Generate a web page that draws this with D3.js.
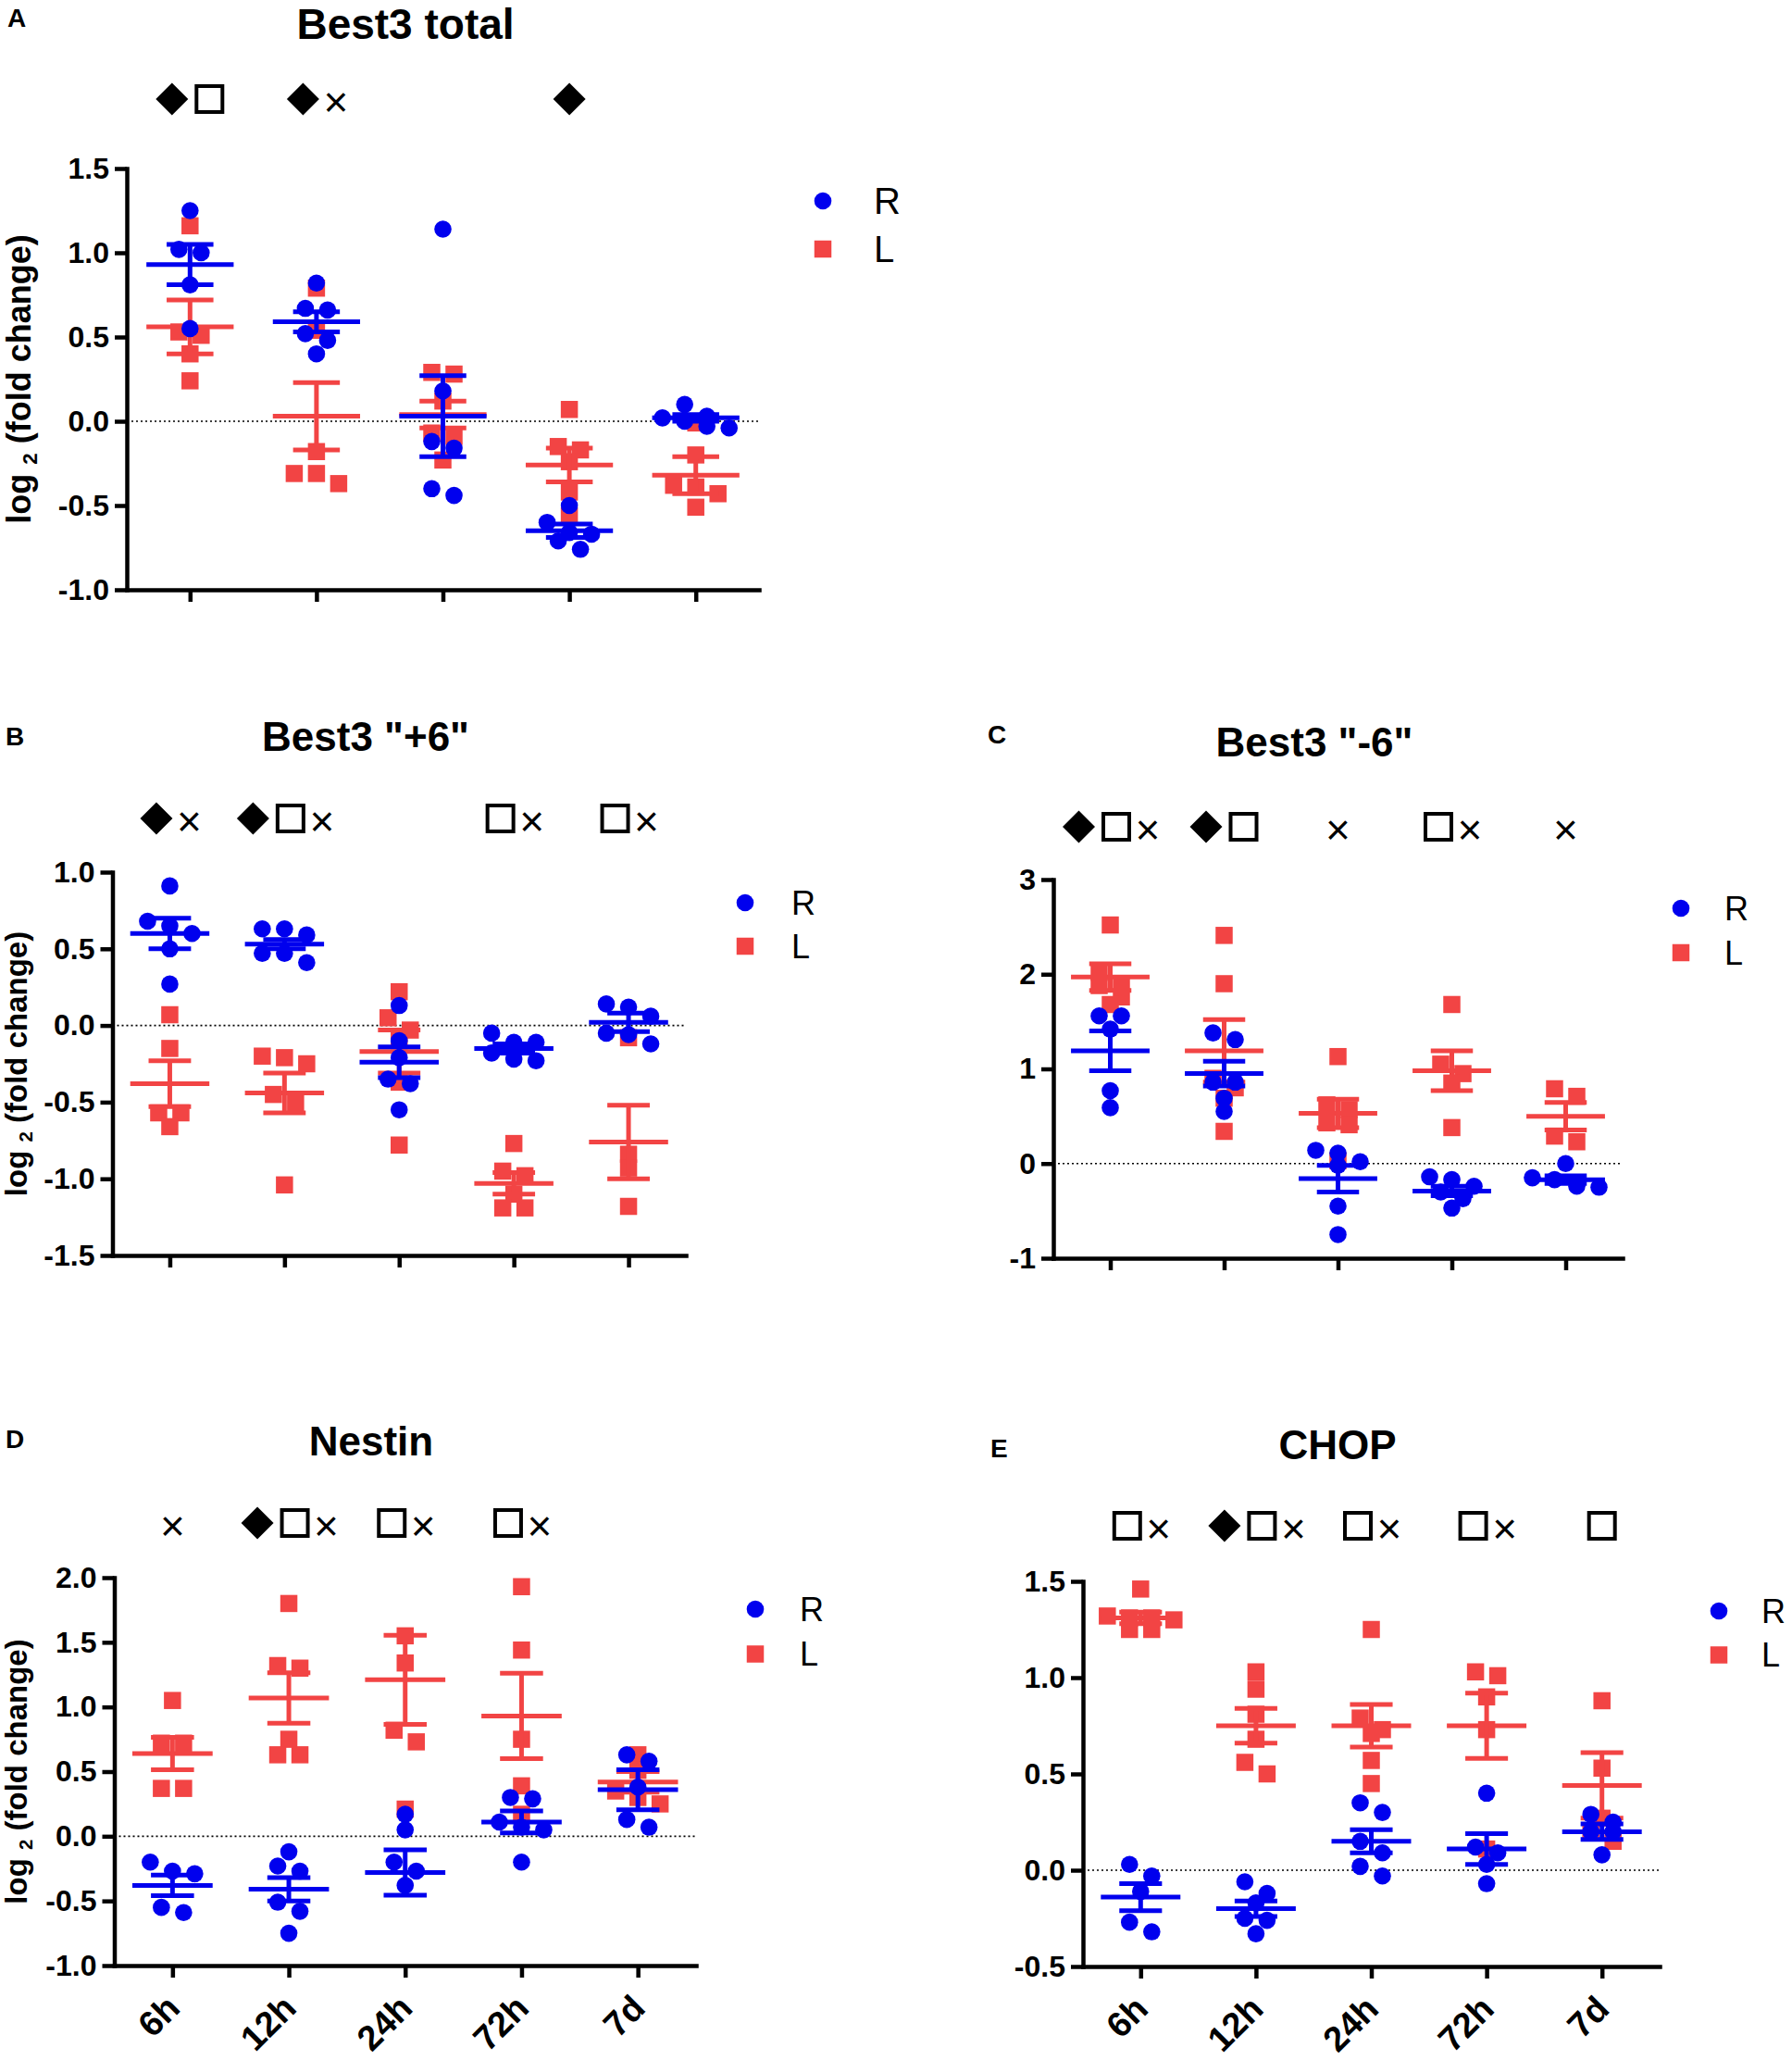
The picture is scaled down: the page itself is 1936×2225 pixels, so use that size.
<!DOCTYPE html>
<html>
<head>
<meta charset="utf-8">
<script src="https://cdn.jsdelivr.net/npm/d3@7"></script>
<style>
  body { margin: 0; background: #fff; }
  svg { display: block; }
  text { font-family: "Liberation Sans", Arial, sans-serif; }
</style>
</head>
<body>
<div id="chart"></div>
<script>
// time points on the x axis
var timepoints = ["6h", "12h", "24h", "72h", "7d"];

// ---- A: Best3 total ----
var best3TotalR = [
  [1.25, 1.02, 1.00, 0.81, 0.55],
  [0.82, 0.67, 0.66, 0.52, 0.48, 0.40],
  [1.14, 0.18, -0.12, -0.16, -0.40, -0.44],
  [-0.50, -0.60, -0.66, -0.67, -0.71, -0.76],
  [0.10, 0.03, 0.02, 0.00, -0.03, -0.04]
];
var best3TotalRMean = [0.93, 0.59, 0.03, -0.65, 0.02];
var best3TotalRSem = [0.12, 0.06, 0.24, 0.04, 0.02];
var best3TotalL = [
  [1.16, 0.53, 0.51, 0.40, 0.24],
  [0.79, 0.54, -0.18, -0.31, -0.31, -0.37],
  [0.29, 0.28, 0.12, -0.07, -0.09, -0.23],
  [0.07, -0.15, -0.17, -0.24, -0.42, -0.56],
  [-0.01, -0.20, -0.38, -0.39, -0.43, -0.51]
];
var best3TotalLMean = [0.56, 0.03, 0.04, -0.26, -0.32];
var best3TotalLSem = [0.16, 0.20, 0.08, 0.10, 0.11];
var best3TotalSig = ["◆□", "◆×", "", "◆", ""];

// ---- B: Best3 "+6" ----
var best3PlusR = [
  [0.91, 0.68, 0.65, 0.60, 0.50, 0.27],
  [0.63, 0.63, 0.59, 0.47, 0.47, 0.41],
  [0.13, -0.10, -0.21, -0.35, -0.38, -0.55],
  [-0.05, -0.11, -0.11, -0.18, -0.22, -0.23],
  [0.14, 0.12, 0.06, -0.05, -0.06, -0.12]
];
var best3PlusRMean = [0.60, 0.53, -0.24, -0.15, 0.02];
var best3PlusRSem = [0.10, 0.03, 0.10, 0.03, 0.06];
var best3PlusL = [
  [0.07, -0.15, -0.57, -0.57, -0.66],
  [-0.20, -0.21, -0.25, -0.45, -0.51, -1.04],
  [0.22, 0.05, -0.03, -0.10, -0.37, -0.78],
  [-0.77, -0.95, -0.98, -1.10, -1.19, -1.19],
  [-0.08, -0.84, -0.93, -1.18]
];
var best3PlusLMean = [-0.38, -0.44, -0.17, -1.03, -0.76];
var best3PlusLSem = [0.15, 0.13, 0.14, 0.07, 0.24];
var best3PlusSig = ["◆×", "◆□×", "", "□×", "□×"];

// ---- C: Best3 "-6" ----
var best3MinusR = [
  [1.56, 1.56, 1.42, 0.77, 0.59],
  [1.38, 1.31, 0.86, 0.86, 0.69, 0.55],
  [0.14, 0.11, 0.02, -0.02, -0.45, -0.75],
  [-0.14, -0.17, -0.24, -0.30, -0.37, -0.47],
  [0.00, -0.15, -0.17, -0.24, -0.25]
];
var best3MinusRMean = [1.19, 0.95, -0.16, -0.29, -0.17];
var best3MinusRSem = [0.21, 0.13, 0.14, 0.05, 0.04];
var best3MinusL = [
  [2.52, 2.02, 1.90, 1.88, 1.76, 1.68],
  [2.41, 1.90, 0.90, 0.80, 0.69, 0.34],
  [1.13, 0.62, 0.57, 0.43, 0.41, 0.03],
  [1.68, 1.05, 0.95, 0.85, 0.38],
  [0.79, 0.71, 0.29, 0.23]
];
var best3MinusLMean = [1.97, 1.19, 0.53, 0.98, 0.50];
var best3MinusLSem = [0.14, 0.33, 0.15, 0.21, 0.145];
var best3MinusSig = ["◆□×", "◆□", "×", "□×", "×"];

// ---- D: Nestin ----
var nestinR = [
  [-0.20, -0.27, -0.29, -0.55, -0.59],
  [-0.12, -0.23, -0.27, -0.51, -0.58, -0.75],
  [0.17, 0.05, -0.20, -0.27, -0.38],
  [0.30, 0.29, 0.11, 0.07, 0.05, -0.20],
  [0.63, 0.58, 0.38, 0.13, 0.07]
];
var nestinRMean = [-0.38, -0.41, -0.28, 0.11, 0.36];
var nestinRSem = [0.08, 0.09, 0.175, 0.085, 0.155];
var nestinL = [
  [1.05, 0.72, 0.72, 0.37, 0.37],
  [1.80, 1.32, 1.30, 0.75, 0.63, 0.63],
  [1.55, 1.34, 0.82, 0.73, 0.21],
  [1.93, 1.44, 0.75, 0.39, 0.17],
  [0.63, 0.51, 0.35, 0.30, 0.25]
];
var nestinLMean = [0.64, 1.07, 1.21, 0.93, 0.42];
var nestinLSem = [0.125, 0.195, 0.345, 0.33, 0.08];
var nestinSig = ["×", "◆□×", "□×", "□×", ""];

// ---- E: CHOP ----
var chopR = [
  [0.03, -0.03, -0.11, -0.27, -0.32],
  [-0.06, -0.12, -0.17, -0.25, -0.26, -0.33],
  [0.35, 0.30, 0.15, 0.09, 0.02, -0.03],
  [0.40, 0.12, 0.09, 0.03, -0.07],
  [0.29, 0.25, 0.20, 0.20, 0.08]
];
var chopRMean = [-0.14, -0.20, 0.15, 0.11, 0.20];
var chopRSem = [0.07, 0.04, 0.06, 0.08, 0.04];
var chopL = [
  [1.46, 1.32, 1.31, 1.31, 1.30, 1.25, 1.25],
  [1.03, 0.94, 0.81, 0.68, 0.56, 0.50],
  [1.25, 0.79, 0.73, 0.71, 0.57, 0.45],
  [1.03, 1.01, 0.90, 0.73, 0.11],
  [0.88, 0.53, 0.27, 0.20, 0.15]
];
var chopLMean = [1.31, 0.75, 0.75, 0.75, 0.44];
var chopLSem = [0.03, 0.09, 0.11, 0.17, 0.17];
var chopSig = ["□×", "◆□×", "□×", "□×", "□"];

var blue = "#0000ee", red = "#f24444";
var fmt1 = function(v) { return v.toFixed(1); };
var fmt0 = function(v) { return String(v); };

// layout of each panel
var panels = [
  {letter: "A", title: "Best3 total", titleSize: 46, r: best3TotalR, rMean: best3TotalRMean, rSem: best3TotalRSem,
   l: best3TotalL, lMean: best3TotalLMean, lSem: best3TotalLSem, sig: best3TotalSig,
   left: 137, right: 820, top: 182, bottom: 637, domain: [-1, 1.5], tickStep: 0.5, fmt: fmt1,
   titleX: 438, titleY: 42, letterX: 8, letterY: 29, sigY: 107,
   legX: 889, legY: 217, legGap: 52, legFont: 40, legTextX: 944,
   yTitle: true, yTitleX: 33, yTitleSize: 36, xLabels: false},
  {letter: "B", title: 'Best3 "+6"', titleSize: 44, r: best3PlusR, rMean: best3PlusRMean, rSem: best3PlusRSem,
   l: best3PlusL, lMean: best3PlusLMean, lSem: best3PlusLSem, sig: best3PlusSig,
   left: 121.5, right: 741, top: 942, bottom: 1356, domain: [-1.5, 1.0], tickStep: 0.5, fmt: fmt1,
   titleX: 395, titleY: 811, letterX: 6, letterY: 805, sigY: 884,
   legX: 805, legY: 975, legGap: 47, legFont: 36, legTextX: 855,
   yTitle: true, yTitleX: 29, yTitleSize: 33, xLabels: false},
  {letter: "C", title: 'Best3 "-6"', titleSize: 44, r: best3MinusR, rMean: best3MinusRMean, rSem: best3MinusRSem,
   l: best3MinusL, lMean: best3MinusLMean, lSem: best3MinusLSem, sig: best3MinusSig,
   left: 1138, right: 1753, top: 950, bottom: 1359, domain: [-1, 3], tickStep: 1, fmt: fmt0,
   titleX: 1420, titleY: 817, letterX: 1067, letterY: 803, sigY: 893,
   legX: 1816, legY: 981, legGap: 48, legFont: 36, legTextX: 1863,
   yTitle: false, xLabels: false},
  {letter: "D", title: "Nestin", titleSize: 44, r: nestinR, rMean: nestinRMean, rSem: nestinRSem,
   l: nestinL, lMean: nestinLMean, lSem: nestinLSem, sig: nestinSig,
   left: 123.5, right: 752, top: 1704, bottom: 2123, domain: [-1, 2], tickStep: 0.5, fmt: fmt1,
   titleX: 401, titleY: 1572, letterX: 6, letterY: 1564, sigY: 1645,
   legX: 816, legY: 1738, legGap: 48.5, legFont: 36, legTextX: 864,
   yTitle: true, yTitleX: 29, yTitleSize: 33, xLabels: true},
  {letter: "E", title: "CHOP", titleSize: 44, r: chopR, rMean: chopRMean, rSem: chopRSem,
   l: chopL, lMean: chopLMean, lSem: chopLSem, sig: chopSig,
   left: 1170, right: 1793, top: 1708, bottom: 2124, domain: [-0.5, 1.5], tickStep: 0.5, fmt: fmt1,
   titleX: 1445, titleY: 1576, letterX: 1070, letterY: 1574, sigY: 1648,
   legX: 1857, legY: 1740, legGap: 47.5, legFont: 36, legTextX: 1903,
   yTitle: false, xLabels: true}
];

var svg = d3.select("#chart").append("svg")
    .attr("width", 1936)
    .attr("height", 2225);

var dotR = 9.3, sq = 18.5, spread = 24;

// GraphPad style scatter: values that fall in the same row are spread
// side by side and centred on the group
function swarm(values, y) {
    var order = values.map(function(v, i) { return i; })
        .sort(function(a, b) { return values[b] - values[a]; });
    var rows = [], off = [];
    order.forEach(function(i) {
        var row = rows[rows.length - 1];
        if (row && Math.abs(y(values[i]) - row.y) < 14) row.items.push(i);
        else rows.push({y: y(values[i]), items: [i]});
    });
    rows.forEach(function(row) {
        var n = row.items.length;
        row.items.forEach(function(i, k) { off[i] = (k - (n - 1) / 2) * spread; });
    });
    return off;
}

function drawPanel(p) {
    var g = svg.append("g");

    var x = d3.scalePoint().domain(timepoints).range([p.left, p.right]).padding(0.5);
    var y = d3.scaleLinear().domain(p.domain).range([p.bottom, p.top]);
    var step = x.step();
    var ticks = d3.range(p.domain[0], p.domain[1] + 1e-9, p.tickStep);

    // panel letter and title
    g.append("text").attr("x", p.letterX).attr("y", p.letterY)
        .style("font-size", "28px").style("font-weight", "bold").text(p.letter);
    g.append("text").attr("x", p.titleX).attr("y", p.titleY)
        .attr("text-anchor", "middle")
        .style("font-size", p.titleSize + "px").style("font-weight", "bold").text(p.title);

    // zero line
    g.append("line")
        .attr("x1", p.left).attr("x2", p.right)
        .attr("y1", y(0)).attr("y2", y(0))
        .attr("stroke", "#000").attr("stroke-width", 1.6)
        .attr("stroke-dasharray", "2,3");

    // axes
    var yAxis = g.append("g")
        .attr("transform", "translate(" + p.left + ",0)")
        .call(d3.axisLeft(y).tickValues(ticks).tickFormat(p.fmt).tickSize(13).tickSizeOuter(0).tickPadding(6));
    var xAxis = g.append("g")
        .attr("transform", "translate(0," + p.bottom + ")")
        .call(d3.axisBottom(x).tickSize(13).tickSizeOuter(0).tickFormat(""));
    [yAxis, xAxis].forEach(function(a) {
        a.select(".domain").attr("stroke-width", 4.5).attr("stroke-linecap", "square");
        a.selectAll(".tick line").attr("stroke-width", 4.5);
    });
    yAxis.selectAll("text")
        .style("font-size", "32px").style("font-weight", "bold")
        .style("font-family", '"Liberation Sans", Arial, sans-serif').attr("fill", "#000");

    if (p.xLabels) {
        g.selectAll(".xlab").data(timepoints).enter().append("text")
            .attr("text-anchor", "end")
            .attr("transform", function(d) {
                return "translate(" + (x(d) + 10) + "," + (p.bottom + 48) + ") rotate(-45)";
            })
            .style("font-size", "38px").style("font-weight", "bold")
            .text(function(d) { return d; });
    }

    if (p.yTitle) {
        var yt = g.append("text")
            .attr("transform", "translate(" + p.yTitleX + "," + ((p.top + p.bottom) / 2) + ") rotate(-90)")
            .attr("text-anchor", "middle")
            .style("font-size", p.yTitleSize + "px").style("font-weight", "bold");
        yt.append("tspan").text("log ");
        yt.append("tspan").attr("dy", "0.3em").style("font-size", "0.62em").text("2");
        yt.append("tspan").attr("dy", "-0.186em").text(" (fold change)");
    }

    // data: L drawn first, then R on top
    var series = [
        {vals: p.l, mean: p.lMean, sem: p.lSem, color: red, shape: "square"},
        {vals: p.r, mean: p.rMean, sem: p.rSem, color: blue, shape: "circle"}
    ];
    series.forEach(function(s) {
        s.vals.forEach(function(vals, gi) {
            var cx = x(timepoints[gi]);
            var off = swarm(vals, y);
            var pts = vals.map(function(v, i) { return {v: v, dx: off[i]}; });
            if (s.shape === "circle") {
                g.selectAll(null).data(pts).enter().append("circle")
                    .attr("cx", function(d) { return cx + d.dx; })
                    .attr("cy", function(d) { return y(d.v); })
                    .attr("r", dotR).attr("fill", s.color);
            } else {
                g.selectAll(null).data(pts).enter().append("rect")
                    .attr("x", function(d) { return cx + d.dx - sq / 2; })
                    .attr("y", function(d) { return y(d.v) - sq / 2; })
                    .attr("width", sq).attr("height", sq).attr("fill", s.color);
            }
            var m = s.mean[gi], e = s.sem[gi];
            var bars = g.append("g").attr("stroke", s.color).attr("stroke-width", 5);
            bars.append("line").attr("x1", cx - step * 0.345).attr("x2", cx + step * 0.345)
                .attr("y1", y(m)).attr("y2", y(m));
            bars.append("line").attr("x1", cx).attr("x2", cx)
                .attr("y1", y(m - e)).attr("y2", y(m + e));
            [m - e, m + e].forEach(function(v) {
                bars.append("line").attr("x1", cx - step * 0.185).attr("x2", cx + step * 0.185)
                    .attr("y1", y(v)).attr("y2", y(v));
            });
        });
    });

    // significance marks above each group
    p.sig.forEach(function(str, gi) {
        if (!str) return;
        var chars = Array.from(str);
        var widths = chars.map(function(c) { return c === "◆" ? 35 : c === "□" ? 32 : 22; });
        var total = d3.sum(widths) + 7 * (chars.length - 1);
        var sx = x(timepoints[gi]) - total / 2;
        var cy = p.sigY;
        chars.forEach(function(c, k) {
            var w = widths[k], mx = sx + w / 2;
            if (c === "◆") {
                g.append("path")
                    .attr("d", "M" + mx + "," + (cy - 17.5) + "L" + (mx + 17.5) + "," + cy +
                               "L" + mx + "," + (cy + 17.5) + "L" + (mx - 17.5) + "," + cy + "Z")
                    .attr("fill", "#000");
            } else if (c === "□") {
                g.append("rect").attr("x", mx - 14).attr("y", cy - 14)
                    .attr("width", 28).attr("height", 28)
                    .attr("fill", "none").attr("stroke", "#000").attr("stroke-width", 4);
            } else {
                g.append("text").attr("x", mx).attr("y", cy + 19)
                    .attr("text-anchor", "middle")
                    .style("font-size", "46px").text("×");
            }
            sx += w + 7;
        });
    });

    // legend
    g.append("circle").attr("cx", p.legX).attr("cy", p.legY).attr("r", dotR).attr("fill", blue);
    g.append("rect").attr("x", p.legX - sq / 2).attr("y", p.legY + p.legGap - sq / 2)
        .attr("width", sq).attr("height", sq).attr("fill", red);
    [["R", 0], ["L", p.legGap]].forEach(function(d) {
        g.append("text").attr("x", p.legTextX).attr("y", p.legY + d[1])
            .attr("dy", "0.36em")
            .style("font-size", p.legFont + "px").text(d[0]);
    });
}

panels.forEach(drawPanel);
</script>
</body>
</html>
